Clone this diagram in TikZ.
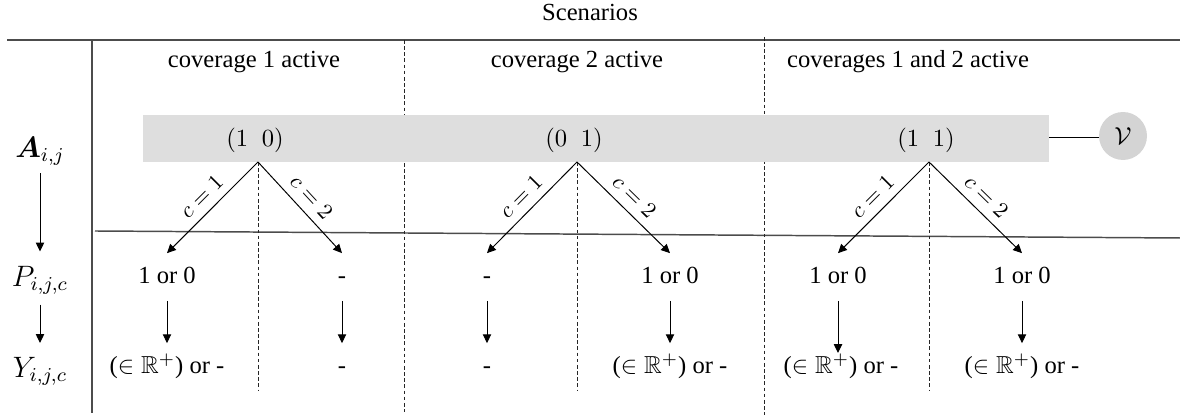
\documentclass[tikz,border=0pt]{standalone}
\usepackage{amsmath,amssymb}
\usepackage{fontspec}
\setmainfont{Liberation Serif}
\usetikzlibrary{arrows.meta,positioning}
\tikzset{
	cell/.style={inner xsep=2pt,inner ysep=5pt,text height=7pt,text depth=2pt},
	rowlabel/.style={font=\large,inner sep=2pt,text height=9pt,text depth=3pt},
	heading/.style={anchor=base},
	tuple/.style={anchor=base},
	branchlabel/.style={font=\small,midway,sloped,above},
	diredge/.style={-{Triangle[length=3.6pt,width=3.4pt]},color=black,thin},
	rule/.style={color=black!70,line width=.6pt},
	sep/.style={color=black!85,line width=.4pt,dash pattern=on 1.5pt off 1pt},
	bandfill/.style={fill=black!13},
	vnode/.style={circle,fill=black!17,minimum size=19.5pt,inner sep=0pt}
}

\begin{document}
\begin{tikzpicture}[x=0.4065pt,y=-0.4065pt]
	\useasboundingbox (0,0) rectangle (1180,417);
	
	\node[heading] (scen) at (590,21) {Scenarios};
	\node[heading] (hd1) at (254,68) {coverage 1 active};
	\node[heading] (hd2) at (577,68) {coverage 2 active};
	\node[heading] (hd3) at (908,68) {coverages 1 and 2 active};
	
	\draw[rule] (7,40) -- (1180,40);
	\draw[rule] (92,40) -- (92,413);
	\draw[rule] (95,231) -- (1180,238);
	\draw[sep] (404,40) -- (404,412);
	\draw[sep] (764,37) -- (764,415);
	
	\fill[bandfill] (143,115) rectangle (1049,162);
	\coordinate (bandend) at (1049,138);
	\node[vnode] (V) at (1123,136) {$\mathcal{V}$};
	\draw[thin] (bandend) -- (bandend -| V.west);
	
	\node[tuple] (s1) at (255,147) {$(1\;\;0)$};
	\node[tuple] (s2) at (574,147) {$(0\;\;1)$};
	\node[tuple] (s3) at (926,147) {$(1\;\;1)$};
	\coordinate (a1) at (258,162);
	\coordinate (a2) at (577,162);
	\coordinate (a3) at (929,162);
	
	% left column
	\node[rowlabel] (la) at (40,150) {$\boldsymbol{A}_{i,j}$};
	\node[rowlabel] (lp) at (40,279) {$P_{i,j,c}$};
	\node[rowlabel] (ly) at (40,370) {$Y_{i,j,c}$};
	\draw[diredge,shorten <=1.2pt,shorten >=3pt] (la) -- (lp);
	\draw[diredge,shorten <=2.2pt,shorten >=2.8pt] (lp) -- (ly);
	
	% P row
	\node[cell] (p11) at (167,277) {1 or 0};
	\node[cell] (p12) at (342,277) {-};
	\node[cell] (p21) at (487,277) {-};
	\node[cell] (p22) at (670,277) {1 or 0};
	\node[cell] (p31) at (838,277) {1 or 0};
	\node[cell] (p32) at (1022,277) {1 or 0};
	
	% Y row
	\node[cell] (y11) at (167,367) {($\in \mathbb{R}^{+}$) or -};
	\node[cell] (y12) at (342,367) {-};
	\node[cell] (y21) at (487,367) {-};
	\node[cell] (y22) at (670,367) {($\in \mathbb{R}^{+}$) or -};
	\node[cell] (y31) at (841,367) {($\in \mathbb{R}^{+}$) or -};
	\node[cell] (y32) at (1022,367) {($\in \mathbb{R}^{+}$) or -};
	
	\draw[sep] (a1) -- ++(0,228) (a2) -- ++(0,228) (a3) -- ++(0,228);
	
	\draw[diredge] (a1) -- node[branchlabel] {$c=1$} (p11.north);
	\draw[diredge] (a1) -- node[branchlabel] {$c=2$} (p12.north);
	\draw[diredge] (a2) -- node[branchlabel] {$c=1$} (p21.north);
	\draw[diredge] (a2) -- node[branchlabel] {$c=2$} (p22.north);
	\draw[diredge] (a3) -- node[branchlabel] {$c=1$} (p31.north);
	\draw[diredge] (a3) -- node[branchlabel] {$c=2$} (p32.north);
	
	\draw[diredge] (p11) -- (y11);
	\draw[diredge] (p12) -- (y12);
	\draw[diredge] (p21) -- (y21);
	\draw[diredge] (p22) -- (y22);
	\draw[diredge,shorten >=-4pt] (p31) -- (p31 |- y31.north);
	\draw[diredge] (p32) -- (y32);
\end{tikzpicture}
\end{document}
